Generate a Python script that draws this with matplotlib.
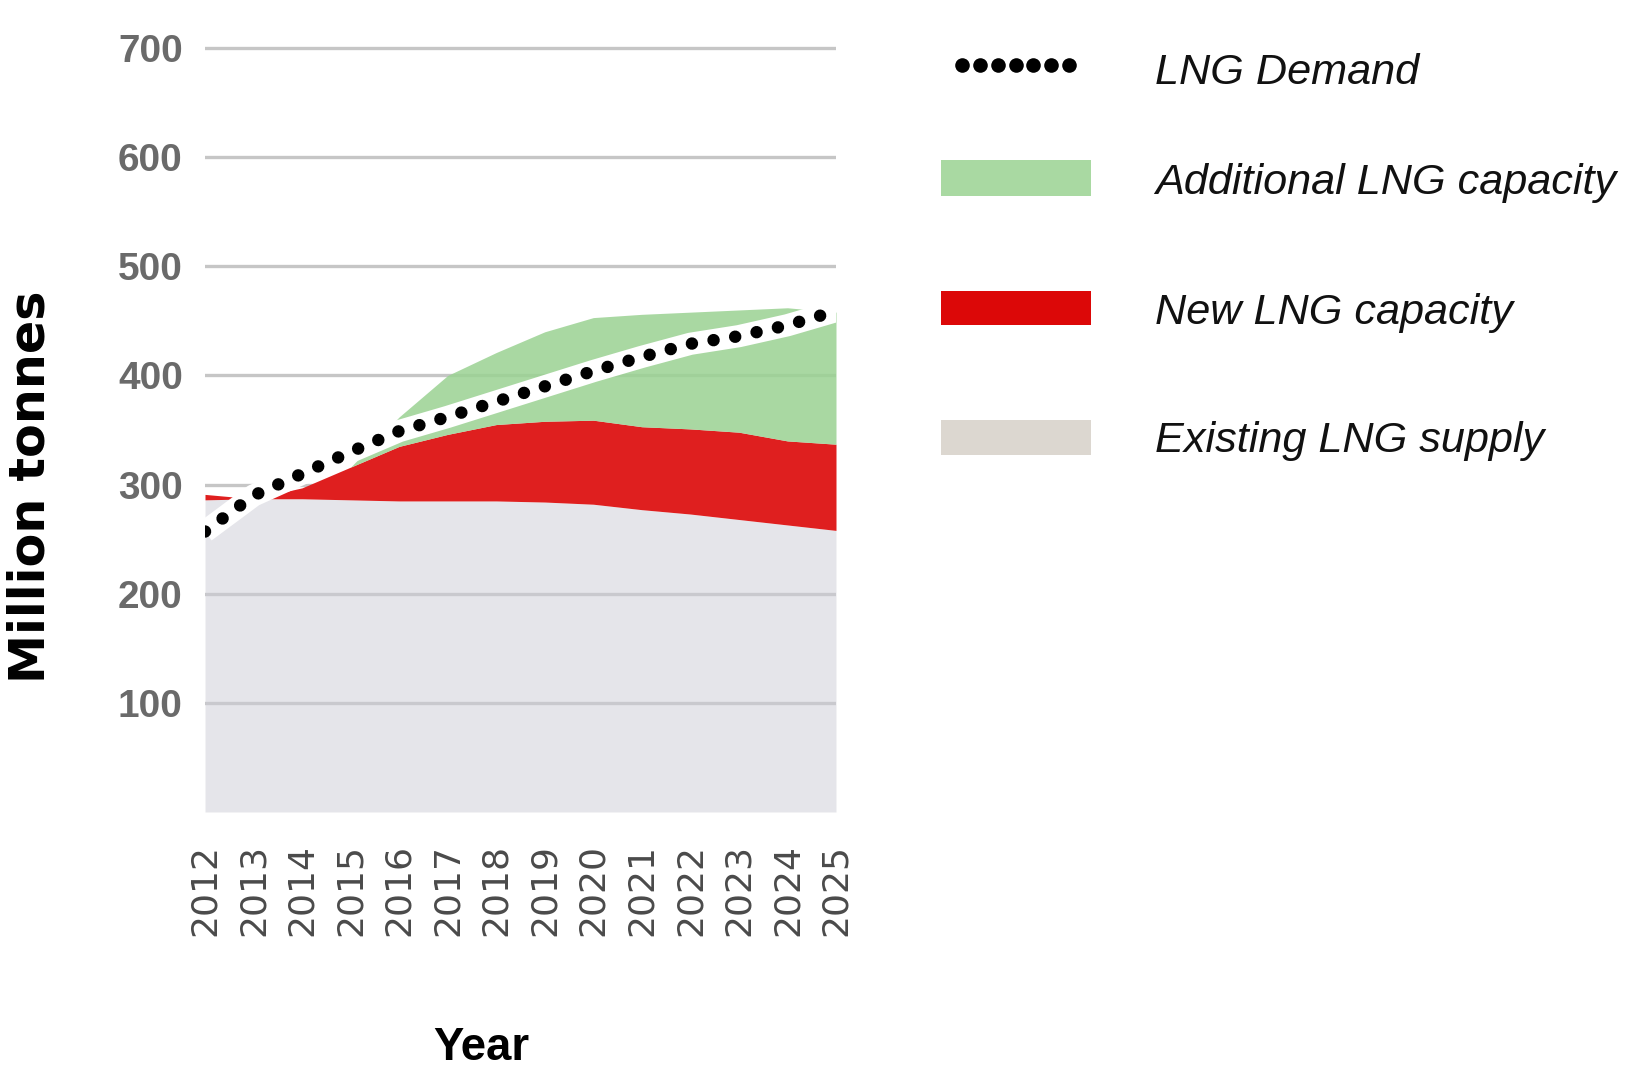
import matplotlib
matplotlib.use("Agg")
import matplotlib.pyplot as plt
from matplotlib import font_manager
from matplotlib.patches import Rectangle
import numpy as np

# ---- data (million tonnes) ----
years = [2012, 2013, 2014, 2015, 2016, 2017, 2018, 2019, 2020, 2021, 2022, 2023, 2024, 2025]
existing_supply = [286, 287, 287, 286, 285, 285, 285, 284, 282, 277, 273, 268, 263, 258]
new_capacity = [5, 0, 10, 30, 50, 61, 70, 74, 77, 76, 78, 80, 77, 79]
additional_capacity = [0, 0, 0, 0, 27, 54, 66, 82, 94, 103, 107, 112, 122, 121]
lng_demand = [257, 290, 310, 330, 349, 362, 376, 390, 404, 417, 429, 436, 446, 459]
y_ticks = [100, 200, 300, 400, 500, 600, 700]
legend_labels = ["LNG Demand", "Additional LNG capacity", "New LNG capacity", "Existing LNG supply"]

# ---- fonts ----
names = {f.name for f in font_manager.fontManager.ttflist}
HAS_NARROW = "Liberation Sans Narrow" in names
NARROW = "Liberation Sans Narrow" if HAS_NARROW else "Liberation Sans"
nscale = 1.0 if HAS_NARROW else 0.82

# fills are slightly translucent so the grid reads through grey and green
GREY, GREY_A = "#cdcdd6", 0.5
RED = "#df1f1f"
GREEN, GREEN_A = "#9ad292", 0.85
GRID = "#c6c6c6"

W, H = 1636, 1072
fig = plt.figure(figsize=(W / 100, H / 100), dpi=100)
fig.patch.set_facecolor("white")

ax_left, ax_right = 205, 836
ax_bottom_px = 812
y_max = 715
px_per_unit = 1.0914
ax_top_px = ax_bottom_px - y_max * px_per_unit
ax_h_px = ax_bottom_px - ax_top_px
ax = fig.add_axes([ax_left / W, 1 - ax_bottom_px / H,
                   (ax_right - ax_left) / W, ax_h_px / H])

x = np.array(years)
base = np.array(existing_supply, dtype=float)
red_top = base + np.array(new_capacity)
green_top = red_top + np.array(additional_capacity)

ax.fill_between(x, 0, base, color=GREY, alpha=GREY_A, lw=0, zorder=1)
ax.fill_between(x, base, red_top, color=RED, lw=0, zorder=1)
ax.fill_between(x, red_top, green_top, color=GREEN, alpha=GREEN_A, lw=0, zorder=1)

# demand: white halo under a row of round dots
ax.plot(x, lng_demand, color="white", lw=16, solid_capstyle="butt", zorder=3)
ax.plot(x, lng_demand, color="black", lw=9, linestyle=(0, (0.001, 1.75)),
        dash_capstyle="round", zorder=4)

ax.set_xlim(2012, 2025)
ax.set_ylim(0, y_max)
ax.set_yticks(y_ticks)
ax.set_xticks(years)
ax.set_xticklabels([str(y) for y in years], rotation=90, fontfamily="DejaVu Sans",
                   fontsize=26, color="#4a4a4a")
ax.set_yticklabels([str(v) for v in y_ticks], fontfamily=NARROW, fontweight="bold",
                   fontsize=34 * nscale, color="#6a6a6a")
ax.tick_params(axis="both", length=0)
ax.tick_params(axis="x", pad=23)
ax.tick_params(axis="y", pad=16)
for s in ax.spines.values():
    s.set_visible(False)
ax.set_facecolor("white")
ax.set_axisbelow(True)
ax.yaxis.grid(True, color=GRID, lw=2.4, zorder=0)
ax.xaxis.grid(False)

ax.set_xlabel("Year", fontfamily=NARROW, fontweight="bold", fontsize=40 * nscale,
              color="black")
ax.xaxis.label.set_va("baseline")
ax.xaxis.set_label_coords((481 - ax_left) / (ax_right - ax_left),
                          -(1060 - ax_bottom_px) / ax_h_px)
ax.set_ylabel("Million tonnes", fontfamily="DejaVu Sans", fontweight="bold",
              fontsize=35.5, color="black")
ax.yaxis.label.set_va("center")
ax.yaxis.set_label_coords((31 - ax_left) / (ax_right - ax_left),
                          (ax_bottom_px - 487) / ax_h_px)

# ---- legend panel, laid out in pixel units ----
lg = fig.add_axes([0, 0, 1, 1])
lg.set_xlim(0, W)
lg.set_ylim(H, 0)
lg.axis("off")

lg.plot(np.linspace(962, 1069, 7), [65] * 7, "o", color="black", ms=10.5, mew=0)
lg.add_patch(Rectangle((941, 160), 150, 36, color="#a9d9a2", lw=0))
lg.add_patch(Rectangle((941, 291), 150, 34, color="#dc0808", lw=0))
lg.add_patch(Rectangle((941, 420), 150, 35, color="#dcd7d0", lw=0))

baselines = [84, 194, 324, 452]
for label, yb in zip(legend_labels, baselines):
    lg.text(1155, yb, label, fontfamily=NARROW, fontstyle="italic",
            fontsize=38 * nscale, color="#111111", ha="left", va="baseline")

fig.savefig("out.png", dpi=100, facecolor="white")
